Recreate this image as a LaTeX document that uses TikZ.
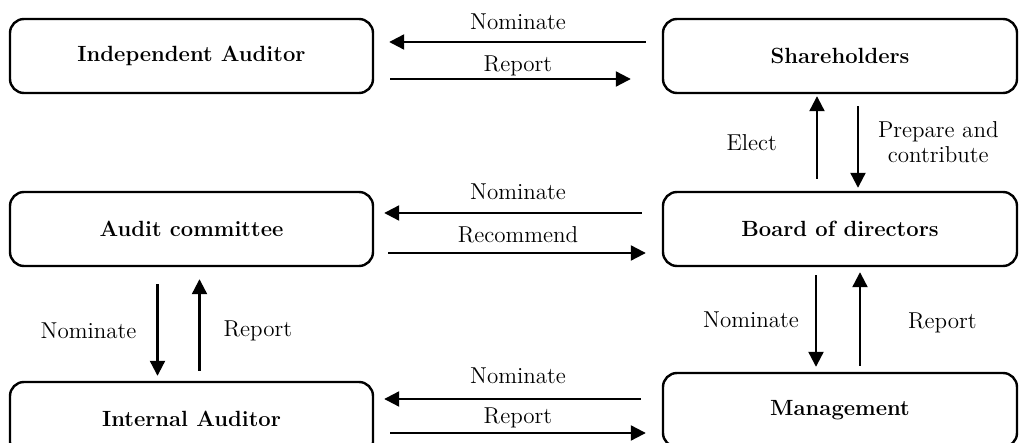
\documentclass[tikz,border=0pt]{standalone}
\usepackage{tikz}
\usetikzlibrary{positioning,arrows.meta,calc}
\tikzset{
  caja/.style={rectangle, rounded corners=7pt, draw=black, line width=1.2pt,
    minimum width=181.5pt, minimum height=37pt, inner sep=0pt,
    font=\fontsize{11}{13}\selectfont\bfseries},
  flecha/.style={-{Triangle[length=7.5pt,width=7.5pt]}, line width=1.1pt},
  etq/.style={font=\fontsize{11.5}{12.5}\selectfont, align=center, inner sep=0pt},
}
\begin{document}
\begin{tikzpicture}[x=0.5pt,y=-0.5pt]
  \useasboundingbox (0,0) rectangle (1019,443);
  \node[caja] (ea) at (191.5,56) {Independent Auditor};
  \node[caja, minimum width=177pt] (acc) at (840,56) {Shareholders};
  \node[caja] (ca) at (191.5,229) {Audit committee};
  \node[caja, minimum width=177pt] (jd) at (840,229) {Board of directors};
  \node[caja] (ai) at (191.5,419) {Internal Auditor};
  \node[caja, minimum width=177pt] (ge) at (840,410) {Management};
  % fila superior
  \draw[flecha, shorten <=8pt, shorten >=7.5pt] ([yshift=7pt]acc.west) -- ([yshift=7pt]acc.west -| ea.east)
    node[etq, midway, anchor=base, yshift=6pt] {Nominate};
  \draw[flecha, shorten <=8pt, shorten >=15.5pt] ([yshift=-11.5pt]ea.east) -- ([yshift=-11.5pt]ea.east -| acc.west)
    node[etq, midway, anchor=base, yshift=3.6pt] {Report};
  % fila central
  \draw[flecha, shorten <=10pt, shorten >=5pt] ([yshift=8pt]jd.west) -- ([yshift=8pt]jd.west -| ca.east)
    node[etq, midway, anchor=base, yshift=6.5pt] {Nominate};
  \draw[flecha, shorten <=7pt, shorten >=8pt] ([yshift=-12pt]ca.east) -- ([yshift=-12pt]ca.east -| jd.west)
    node[etq, midway, anchor=base, yshift=5pt] {Recommend};
  % fila inferior
  \draw[flecha, shorten <=10.5pt, shorten >=5pt] ([yshift=5.5pt]ge.west) -- ([yshift=5.5pt]ge.west -| ai.east)
    node[etq, midway, anchor=base, yshift=7.5pt] {Nominate};
  \draw[flecha, shorten <=8pt, shorten >=8pt] ([yshift=-11.5pt]ge.west -| ai.east) -- ([yshift=-11.5pt]ge.west)
    node[etq, midway, anchor=base, yshift=4.5pt] {Report};
  % verticales
  \draw[flecha, shorten <=6pt, shorten >=1pt] ([xshift=-11.5pt]jd.north) -- ([xshift=-11.5pt]jd.north |- acc.south)
    node[etq, midway, left=19.5pt] {Elect};
  \draw[flecha, shorten <=6pt, shorten >=1.5pt] ([xshift=9pt]acc.south) -- ([xshift=9pt]acc.south |- jd.north)
    node[etq, midway, right=9.5pt] {Prepare and\\contribute};
  \draw[flecha, shorten <=8.5pt, shorten >=2.5pt] ([xshift=-17pt]ca.south) -- ([xshift=-17pt]ca.south |- ai.north)
    node[etq, midway, left=10pt, yshift=-3.5pt] {Nominate};
  \draw[flecha, shorten <=5pt, shorten >=6pt] ([xshift=4pt]ca.south |- ai.north) -- ([xshift=4pt]ca.south)
    node[etq, midway, right=11.5pt, yshift=-3.5pt] {Report};
  \draw[flecha, shorten <=4pt, shorten >=2.5pt] ([xshift=-12pt]jd.south) -- ([xshift=-12pt]jd.south |- ge.north)
    node[etq, midway, left=8pt] {Nominate};
  \draw[flecha, shorten <=3pt, shorten >=2.5pt] ([xshift=10pt]jd.south |- ge.north) -- ([xshift=10pt]jd.south)
    node[etq, midway, right=23.5pt, yshift=-1.5pt] {Report};
\end{tikzpicture}
\end{document}
